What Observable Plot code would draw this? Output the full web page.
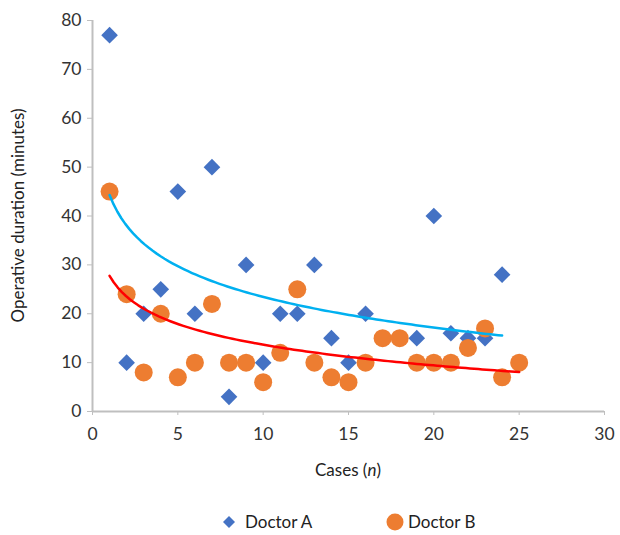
<!DOCTYPE html>
<html><head><meta charset="utf-8">
<script src="https://cdn.jsdelivr.net/npm/d3@7"></script>
<script src="https://cdn.jsdelivr.net/npm/@observablehq/plot@0.6"></script>
<style>
body{margin:0;background:#fff;font-family:Lato,"Open Sans",sans-serif;}
#legend{position:relative;height:40px;font-size:17px;color:#222;}
.item{position:absolute;top:16px;display:flex;align-items:center;}
</style></head>
<body><div id="chart"></div><div id="legend"></div>
<script>
const casesA = [1,2,3,4,5,6,7,8,9,10,11,12,13,14,15,16,17,19,20,21,22,23,24];
const durA   = [77,10,20,25,45,20,50,3,30,10,20,20,30,15,10,20,15,15,40,16,15,15,28];
const casesB = [1,2,3,4,5,6,7,8,9,10,11,12,13,14,15,16,17,18,19,20,21,22,23,24,25];
const durB   = [45,24,8,20,7,10,22,10,10,6,12,25,10,7,6,10,15,15,10,10,10,13,17,7,10];
const seriesNames = ["Doctor A","Doctor B"];
const xTicks = [0,5,10,15,20,25,30];
const yTicks = [0,10,20,30,40,50,60,70,80];

const A = casesA.map((c,i)=>({x:c,y:durA[i]}));
const B = casesB.map((c,i)=>({x:c,y:durB[i]}));

// Excel-style logarithmic trendline: least squares of y on ln(x)
function logFit(d){
  const lx=d.map(p=>Math.log(p.x));
  const mx=d3.mean(lx), my=d3.mean(d,p=>p.y);
  let sxy=0,sxx=0; d.forEach((p,i)=>{sxy+=(lx[i]-mx)*(p.y-my);sxx+=(lx[i]-mx)**2;});
  const b=sxy/sxx, a=my-b*mx;
  const xs=[]; const [x0,x1]=d3.extent(d,p=>p.x);
  for(let k=0;k<=100;k++){const x=x0+(x1-x0)*k/100;xs.push({x,y:a+b*Math.log(x)});}
  return xs;
}
const fitA=logFit(A), fitB=logFit(B);

const plot = Plot.plot({
  width:620, height:495,
  marginLeft:92, marginRight:16, marginTop:20, marginBottom:84,
  style:{fontFamily:"Lato, 'Open Sans', sans-serif", fontSize:"17px", color:"#333"},
  x:{domain:[0,30], label:null},
  y:{domain:[0,80], label:null},
  marks:[
    Plot.axisX({ticks:xTicks, tickSize:4, tickPadding:12, stroke:"#bfbfbf", fontSize:17.5, fill:"#333"}),
    Plot.axisY({ticks:yTicks, tickSize:5, tickPadding:6, stroke:"#bfbfbf", fontSize:17.5, fill:"#333"}),
    Plot.ruleY([0],{stroke:"#bfbfbf",strokeWidth:2}),
    Plot.ruleX([0],{stroke:"#bfbfbf",strokeWidth:2}),
    Plot.dot(A,{x:"x",y:"y",symbol:"diamond2",r:7.5,fill:"#4472C4",stroke:"none"}),
    Plot.dot(B,{x:"x",y:"y",r:9,fill:"#ED7D31",stroke:"none"}),
    Plot.line(fitA,{x:"x",y:"y",stroke:"#00B0F0",strokeWidth:2.5}),
    Plot.line(fitB,{x:"x",y:"y",stroke:"#FF0000",strokeWidth:2.5})
  ]
});
document.getElementById("chart").appendChild(plot);
const svg=d3.select(plot);
const xs=plot.scale("x"), ys=plot.scale("y");
const xt=svg.append("text").attr("x",(xs.range[0]+xs.range[1])/2).attr("y",476)
  .attr("text-anchor","middle").attr("font-size",17).attr("fill","#222");
xt.append("tspan").text("Cases (");
xt.append("tspan").attr("font-style","italic").text("n");
xt.append("tspan").text(")");
svg.append("text").attr("transform",`translate(24,${(ys.range[0]+ys.range[1])/2}) rotate(-90)`)
  .attr("text-anchor","middle").attr("font-size",17).attr("fill","#222")
  .text("Operative duration (minutes)");

const leg=document.getElementById("legend");
leg.innerHTML=`<div class="item" style="left:221px"><svg width="16" height="16"><path d="M8 2 L14 8 L8 14 L2 8Z" fill="#4472C4"/></svg><span style="margin-left:8px">${seriesNames[0]}</span></div>
<div class="item" style="left:386px"><svg width="18" height="18"><circle cx="9" cy="9" r="8.5" fill="#ED7D31"/></svg><span style="margin-left:4px">${seriesNames[1]}</span></div>`;
</script></body></html>
